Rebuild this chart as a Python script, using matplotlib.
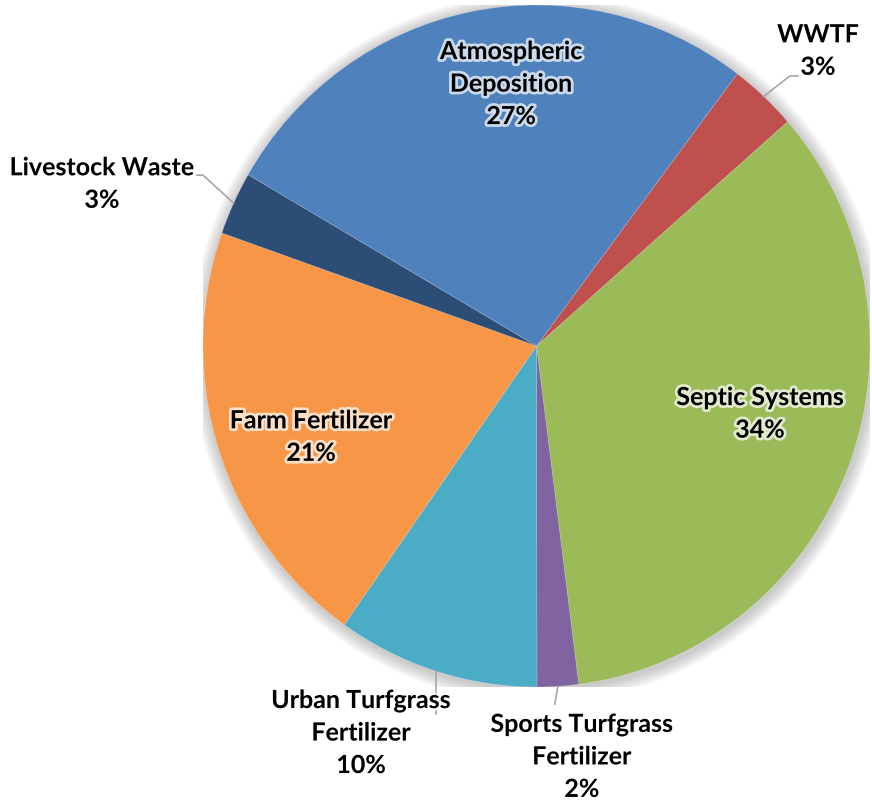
import numpy as np
import matplotlib
matplotlib.use("Agg")
import matplotlib.pyplot as plt
import matplotlib.patheffects as pe
from matplotlib.patches import Ellipse

# data, in clockwise order starting at the WWTF slice
sources = ["WWTF", "Septic Systems", "Sports Turfgrass\nFertilizer",
           "Urban Turfgrass\nFertilizer", "Farm Fertilizer", "Livestock Waste",
           "Atmospheric\nDeposition"]
shares = [3.3, 34.4, 2.0, 9.8, 20.6, 3.0, 26.9]
colors = ["#C0504D", "#9BBB59", "#8064A2", "#4BACC6", "#F79646", "#2C4D75", "#4F81BD"]

# label centres (pie radius = 1) and leader line points for the outside labels
label_pos = [(0.844, 0.865), (0.670, -0.199), (0.136, -1.205), (-0.526, -1.135),
             (-0.676, -0.267), (-1.303, 0.475), (-0.076, 0.768)]
leader_end = {0: [(0.760, 0.792), (0.784, 0.792)],
              2: [(0.055, -1.05)],
              3: [(-0.301, -1.079)],
              5: [(-1.0, 0.501), (-1.018, 0.501)]}

W, H = 872, 804
fig = plt.figure(figsize=(W / 100, H / 100), dpi=100)
# pie spans x 203..870, y 6..688 in pixels (slightly taller than wide)
ax = fig.add_axes((203 / W, (H - 688) / H, 667 / W, 682 / H))

# soft shadow around the pie
for k in range(8):
    r = 1.0 + 0.005 * (k + 1)
    ax.add_patch(Ellipse((0.004, -0.006), 2 * r, 2 * r, color="#808080",
                         alpha=0.06, lw=0, zorder=0))

wedges, _ = ax.pie(shares, colors=colors, startangle=90 - 37, counterclock=False,
                   radius=1, wedgeprops=dict(linewidth=0.3, edgecolor="#FFFFFF60"),
                   frame=True)
ax.set_xlim(-1, 1)
ax.set_ylim(-1, 1)
ax.set_aspect("auto")
ax.axis("off")

glow = [pe.withStroke(linewidth=4, foreground="white", alpha=0.7)]
for i, (name, val) in enumerate(zip(sources, shares)):
    x, y = label_pos[i]
    ax.text(x, y, "%s\n%d%%" % (name, round(val)), ha="center", va="center",
            multialignment="center", fontsize=18, fontweight="bold",
            family=["Lato", "DejaVu Sans"], linespacing=1.5, color="black",
            path_effects=glow, clip_on=False, zorder=5)
    if i in leader_end:
        w = wedges[i]
        mid = np.deg2rad((w.theta1 + w.theta2) / 2)
        pts = [(np.cos(mid), np.sin(mid))] + leader_end[i]
        xs, ys = zip(*pts)
        ax.plot(xs, ys, color="#A6A6A6", lw=1.2, clip_on=False, zorder=4)

fig.savefig("out.png", dpi=100)
